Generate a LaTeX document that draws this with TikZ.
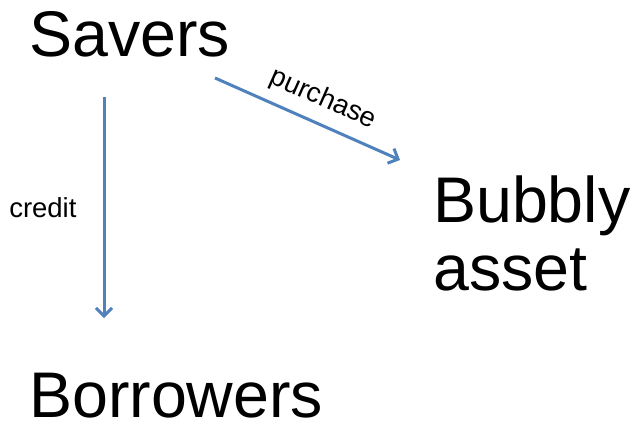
\documentclass[tikz,border=0pt]{standalone}
\usepackage{fontspec}
\setmainfont{Liberation Sans}
\usetikzlibrary{arrows.meta}
\definecolor{arrowblue}{RGB}{79,129,189}
\tikzset{
  big/.style={font=\fontsize{64.5}{68}\selectfont, inner sep=0pt, anchor=base west},
  small/.style={font=\fontsize{27.5}{30}\selectfont, inner sep=0pt},
  conn/.style={draw=arrowblue, line width=3pt, -{Straight Barb[length=8pt,width=16pt,line width=3pt]}}
}
\begin{document}
\begin{tikzpicture}[x=1pt,y=1pt]
\useasboundingbox (0,0) rectangle (631,-422);
\node[big] (savers) at (29,-57) {Savers};
\node[big] (borrowers) at (29,-417) {Borrowers};
\node[big, align=left, anchor=base west] (bubbly) at (433,-290) {Bubbly\\asset};
\coordinate (s1) at (104,-97);
\coordinate (b1) at (104,-318);
\coordinate (s2) at (215,-78);
\coordinate (a2) at (400,-160);
\draw[conn] (s1) -- (b1) node[midway, left=26pt, small, anchor=east] (credit) {credit};
\draw[conn] (s2) -- (a2) node[pos=0.53, sloped, above=10pt, small] (purchase) {purchase};
\end{tikzpicture}
\end{document}
